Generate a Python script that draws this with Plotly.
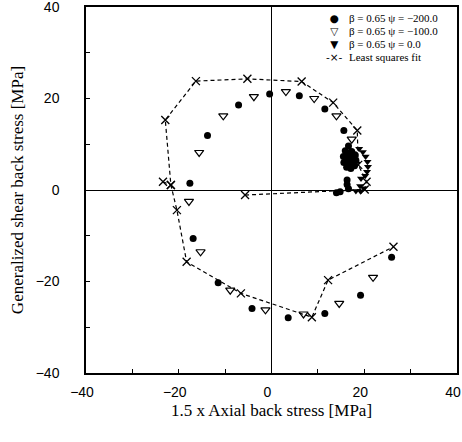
import plotly.graph_objects as go

# ---- data ----
psi200_x = [25.9, 19.2, 11.5, 3.6, -4.2, -11.5, -16.9, -17.6, -13.8, -7.1, -0.4, 6.0, 11.5, 15.6,
            16.6, 15.9, 15.5, 15.6, 16.2, 17.1, 17.9, 18.2, 18.0, 17.3, 16.6, 16.2, 16.4, 17.1, 17.4, 16.9,
            16.3, 16.3, 16.6, 14.0, 14.8]
psi200_y = [-14.7, -23.0, -27.0, -27.9, -25.9, -20.3, -10.6, 1.5, 11.9, 18.6, 21.0, 20.6, 17.7, 13.0,
            9.6, 8.6, 7.3, 6.0, 5.0, 4.7, 5.3, 6.5, 7.7, 8.4, 8.1, 7.2, 6.2, 5.9, 6.8, 7.2,
            2.2, 1.2, 0.3, -0.6, -0.4]

psi100_x = [21.9, 14.6, 6.9, -1.3, -8.9, -15.3, -17.8, -15.6, -10.4, -3.8, 3.1, 9.2, 14.0, 17.3, 18.1]
psi100_y = [-19.1, -24.8, -27.1, -26.2, -21.9, -13.5, -2.5, 8.2, 16.2, 20.4, 21.5, 20.0, 16.2, 11.1, 5.6]

psi0_x = [18.9, 19.7, 20.3, 20.7, 20.8, 20.6, 20.2, 19.3, 19.1, 18.2, 19.2, 19.9]
psi0_y = [9.0, 8.3, 7.3, 6.2, 5.1, 4.0, 3.1, 2.5, 0.9, -0.2, -0.3, 0.4]

fit_x = [-5.7, 20.1, 20.5, 18.7, 18.5, 13.3, 6.5, -5.2, -16.3, -22.9, -21.7, -20.4, -18.3, -6.6, 8.7, 12.2, 26.3,
         None, -23.4, -21.7]
fit_y = [-1.1, 0.1, 1.8, 5.5, 13.0, 19.1, 23.7, 24.3, 23.8, 15.3, 1.1, -4.4, -15.7, -22.6, -27.8, -19.7, -12.4,
         None, 1.8, 1.1]

legend_labels = ["β = 0.65 ψ = −200.0", "β = 0.65 ψ = −100.0", "β = 0.65 ψ = 0.0", "Least squares fit"]
legend_symbols = ["●", "▽", "▼", "-×-"]

x_title = "1.5 x Axial back stress [MPa]"
y_title = "Generalized shear back stress [MPa]"

# ---- figure ----
fig = go.Figure()
fig.add_trace(go.Scatter(x=fit_x, y=fit_y, mode="lines+markers", name=legend_labels[3],
                         line=dict(color="black", width=1.2, dash="4px,3px"),
                         marker=dict(symbol="x-thin-open", size=8, line=dict(color="black", width=1.3)),
                         connectgaps=False, showlegend=False))
fig.add_trace(go.Scatter(x=psi200_x, y=psi200_y, mode="markers", name=legend_labels[0],
                         marker=dict(symbol="circle", size=7, color="black"), showlegend=False))
fig.add_trace(go.Scatter(x=psi100_x, y=psi100_y, mode="markers", name=legend_labels[1],
                         marker=dict(symbol="triangle-down-open", size=8, color="black",
                                     line=dict(width=1.2, color="black")), showlegend=False))
fig.add_trace(go.Scatter(x=psi0_x, y=psi0_y, mode="markers", name=legend_labels[2],
                         marker=dict(symbol="triangle-down", size=7, color="black"), showlegend=False))

L, R, T, B = 86, 5, 7, 69
W, H = 462, 442
pw, ph = W - L - R, H - T - B

def px(xp):
    return (xp - L) / pw

def py(yp):
    return (H - B - yp) / ph

def block(lines, size):
    return "<br>".join('<span style="font-size:%gpx">%s</span>' % (size, s) for s in lines)

# legend drawn as two text blocks (symbols / labels), top-right inside the frame
fig.add_annotation(x=px(334), y=py(38), xref="paper", yref="paper", text=block(legend_symbols, 10.5),
                   showarrow=False, xanchor="center", yanchor="middle", align="center",
                   font=dict(family="DejaVu Sans", size=10, color="black"))
fig.add_annotation(x=px(347), y=py(38), xref="paper", yref="paper", text=block(legend_labels, 11),
                   showarrow=False, xanchor="left", yanchor="middle", align="left",
                   font=dict(family="Liberation Serif", size=10, color="black"))

axis_common = dict(
    range=[-40, 40], dtick=20, tick0=-40, ticks="inside", ticklen=4, tickwidth=1, tickcolor="black",
    minor=dict(dtick=10, ticks="inside", ticklen=4, tickwidth=1, tickcolor="black"),
    showgrid=False, zeroline=True, zerolinecolor="black", zerolinewidth=1,
    showline=True, linecolor="black", linewidth=1.5, mirror=True,
    ticklabeloverflow="allow", automargin=False,
    tickfont=dict(family="Liberation Sans", size=14, color="black"),
)

fig.update_xaxes(**axis_common, title=dict(text=x_title, font=dict(family="Liberation Serif", size=17, color="black"), standoff=6),
                 ticklabelstandoff=5, ticklabelshift=-4)
fig.update_yaxes(**axis_common, title=dict(text=y_title, font=dict(family="Liberation Serif", size=17, color="black"), standoff=8),
                 ticklabelstandoff=22)

fig.update_layout(width=W, height=H, margin=dict(l=L, r=R, t=T, b=B, autoexpand=False),
                  plot_bgcolor="white", paper_bgcolor="white", showlegend=False)

fig.write_html("out.html")
